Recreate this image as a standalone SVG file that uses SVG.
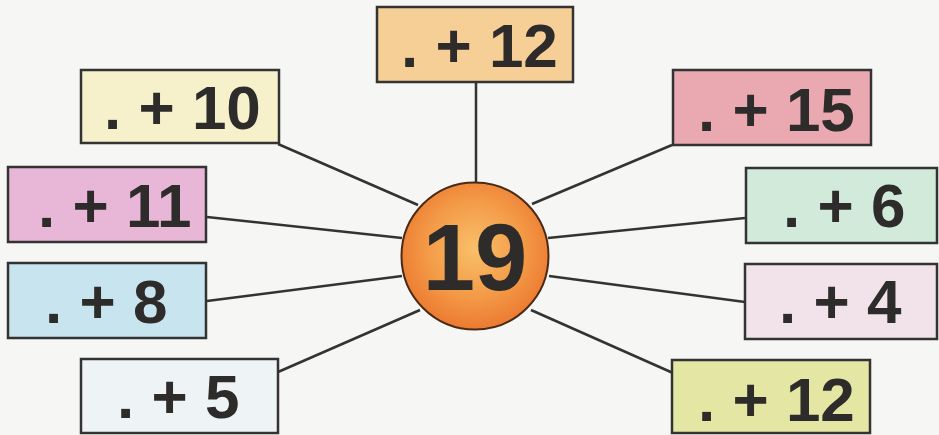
<svg xmlns="http://www.w3.org/2000/svg" width="939" height="435" viewBox="0 0 939 435">
<defs>
<radialGradient id="og" cx="0.5" cy="0.45" r="0.55">
<stop offset="0" stop-color="#f9c069"/>
<stop offset="0.6" stop-color="#f39a47"/>
<stop offset="1" stop-color="#ec7a30"/>
</radialGradient>
<style>
.box{stroke:#333;stroke-width:2.5}
.lbl{font-family:"Liberation Sans",Arial,sans-serif;font-weight:bold;font-size:62px;fill:#2e2b2b}
.conn line{stroke:#333;stroke-width:2.5}
</style>
</defs>
<rect x="0" y="0" width="939" height="435" fill="#f6f6f4"/>
<g class="conn" id="connectors">
<line x1="476" y1="82" x2="476" y2="183"/>
<line x1="278" y1="144" x2="418" y2="205"/>
<line x1="207" y1="217" x2="402" y2="238"/>
<line x1="207" y1="301" x2="402" y2="276"/>
<line x1="278" y1="372" x2="420" y2="310"/>
<line x1="672" y1="145" x2="532" y2="204"/>
<line x1="745" y1="218" x2="548" y2="238"/>
<line x1="745" y1="302" x2="549" y2="276"/>
<line x1="673" y1="373" x2="531" y2="310"/>
</g>
<g id="n-top12">
<rect class="box" x="377" y="7" width="196" height="75" fill="#f6cf96"/>
<text class="lbl" x="401" y="67">. + 12</text>
</g>
<g id="n-10">
<rect class="box" x="81" y="70" width="198" height="73" fill="#f6f1cb"/>
<text class="lbl" x="104" y="129">. + 10</text>
</g>
<g id="n-11">
<rect class="box" x="8" y="167" width="198" height="75" fill="#e8b6d6"/>
<text class="lbl" x="38" y="227">. + 11</text>
</g>
<g id="n-8">
<rect class="box" x="8" y="263" width="198" height="75" fill="#c7e4ef"/>
<text class="lbl" x="45" y="323">. + 8</text>
</g>
<g id="n-5">
<rect class="box" x="81" y="359" width="197" height="74" fill="#eef4f6"/>
<text class="lbl" x="117" y="418">. + 5</text>
</g>
<g id="n-15">
<rect class="box" x="673" y="70" width="198" height="75" fill="#eaa9b1"/>
<text class="lbl" x="698" y="131">. + 15</text>
</g>
<g id="n-6">
<rect class="box" x="746" y="168" width="191" height="75" fill="#d2eada"/>
<text class="lbl" x="783" y="227">. + 6</text>
</g>
<g id="n-4">
<rect class="box" x="745" y="264" width="192" height="75" fill="#f2e2ea"/>
<text class="lbl" x="779" y="323">. + 4</text>
</g>
<g id="n-bot12">
<rect class="box" x="672" y="360" width="198" height="73" fill="#e4e7a3"/>
<text class="lbl" x="698" y="421">. + 12</text>
</g>
<g id="n-center">
<circle cx="475" cy="256" r="73.5" fill="url(#og)" stroke="#4a2a18" stroke-width="2"/>
<text x="475" y="290" text-anchor="middle" font-family="'Liberation Sans',Arial,sans-serif" font-weight="bold" font-size="94" fill="#2e2b2b">19</text>
</g>
</svg>
